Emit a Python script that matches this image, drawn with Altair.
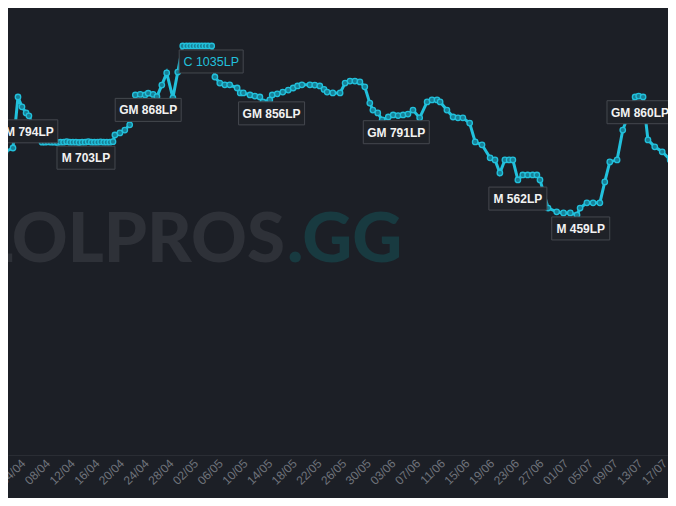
import altair as alt
import pandas as pd

# ---------------- data ----------------
line_dates = [
    "2023-03-31 10:00", "2023-04-01 02:00", "2023-04-02 09:00", "2023-04-03 04:30",
    "2023-04-03 20:00", "2023-04-04 12:00", "2023-04-04 23:00", "2023-04-05 22:30",
    "2023-04-07 02:00", "2023-04-07 14:00", "2023-04-08 02:00", "2023-04-08 14:00",
    "2023-04-09 02:00", "2023-04-09 14:00", "2023-04-10 02:00", "2023-04-10 14:00",
    "2023-04-11 02:00", "2023-04-11 14:00", "2023-04-12 02:00", "2023-04-12 14:00",
    "2023-04-13 02:00", "2023-04-13 14:00", "2023-04-14 02:00", "2023-04-14 14:00",
    "2023-04-15 02:00", "2023-04-15 14:00", "2023-04-16 02:00", "2023-04-16 14:00",
    "2023-04-17 02:00", "2023-04-17 14:00", "2023-04-18 02:00", "2023-04-18 14:00",
    "2023-04-18 21:30", "2023-04-19 17:00", "2023-04-20 12:00", "2023-04-21 07:00",
    "2023-04-22 05:00", "2023-04-23 00:00", "2023-04-23 19:00", "2023-04-24 07:00",
    "2023-04-25 02:00", "2023-04-25 17:00", "2023-04-26 12:00", "2023-04-27 07:00",
    "2023-04-28 07:00", "2023-04-29 02:00", "2023-04-29 21:30", "2023-04-30 12:00",
    "2023-05-01 00:00", "2023-05-01 12:00", "2023-05-02 00:00", "2023-05-02 12:00",
    "2023-05-03 00:00", "2023-05-03 12:00", "2023-05-04 00:00", "2023-05-04 14:00",
    "2023-05-05 02:30", "2023-05-05 21:30", "2023-05-06 17:00", "2023-05-07 12:00",
    "2023-05-08 17:00", "2023-05-09 05:00", "2023-05-09 17:00", "2023-05-10 19:00",
    "2023-05-11 14:00", "2023-05-12 09:30", "2023-05-12 21:30", "2023-05-14 00:00",
    "2023-05-14 09:30", "2023-05-15 05:00", "2023-05-16 02:30", "2023-05-17 00:00",
    "2023-05-17 19:00", "2023-05-18 12:00", "2023-05-19 05:00", "2023-05-20 12:00",
    "2023-05-21 07:00", "2023-05-22 02:30", "2023-05-22 19:00", "2023-05-23 07:00",
    "2023-05-24 05:00", "2023-05-25 09:30", "2023-05-26 05:00", "2023-05-27 00:00",
    "2023-05-27 19:00", "2023-05-28 14:30", "2023-05-29 09:30", "2023-05-30 05:00",
    "2023-05-30 17:00", "2023-05-31 12:00", "2023-06-01 05:00", "2023-06-02 05:00",
    "2023-06-03 00:00", "2023-06-03 19:00", "2023-06-04 14:30", "2023-06-05 09:30",
    "2023-06-06 05:00", "2023-06-07 07:00", "2023-06-08 12:00", "2023-06-09 07:00",
    "2023-06-10 02:30", "2023-06-10 14:30", "2023-06-11 17:00", "2023-06-12 17:00",
    "2023-06-13 12:00", "2023-06-14 07:00", "2023-06-15 09:30", "2023-06-16 07:00",
    "2023-06-17 09:30", "2023-06-18 17:00", "2023-06-19 12:00", "2023-06-20 07:00",
    "2023-06-21 02:30", "2023-06-21 19:00", "2023-06-22 09:30", "2023-06-23 05:00",
    "2023-06-24 00:00", "2023-06-24 19:00", "2023-06-25 14:30", "2023-06-26 07:00",
    "2023-06-26 19:00", "2023-06-28 02:30", "2023-06-29 12:00", "2023-06-30 14:30",
    "2023-07-01 17:00", "2023-07-02 19:00", "2023-07-03 07:00", "2023-07-04 09:30",
    "2023-07-05 09:30", "2023-07-06 12:00", "2023-07-07 07:00", "2023-07-08 02:30",
    "2023-07-09 07:00", "2023-07-10 05:00", "2023-07-12 05:00", "2023-07-12 19:00",
    "2023-07-13 12:00", "2023-07-14 07:00", "2023-07-15 09:30", "2023-07-16 14:30",
    "2023-07-17 21:30", "2023-07-18 19:00", "2023-07-20 07:00",
]
line_lp = [
    459, 670, 683, 859,
    825, 804, 794, 745,
    703, 703, 704, 703,
    703, 702, 703, 703,
    705, 703, 703, 703,
    702, 703, 703, 705,
    703, 703, 703, 704,
    703, 703, 703, 705,
    728, 735, 745, 763,
    866, 868, 866, 872,
    868, 860, 900, 942,
    856, 945, 1035, 1035,
    1035, 1035, 1035, 1035,
    1035, 1035, 1035, 1035,
    928, 907, 901, 901,
    890, 873, 873, 866,
    862, 859, 842, 849,
    866, 870, 876, 883,
    890, 897, 901, 901,
    900, 897, 885, 876,
    873, 873, 907, 914,
    914, 911, 894, 838,
    814, 804, 780, 790,
    797, 795, 797, 800,
    814, 787, 842, 849,
    849, 842, 814, 790,
    787, 787, 769, 704,
    694, 649, 642, 597,
    642, 642, 642, 573,
    590, 590, 590, 590,
    573, 476, 463, 459,
    459, 452, 476, 494,
    494, 494, 566, 635,
    642, 745, 859, 862,
    859, 711, 687, 670,
    642, 642, 642,
]

label_dates = [
    "2023-04-04 07:00", "2023-04-14 05:00", "2023-04-24 07:00", "2023-05-04 12:00",
    "2023-05-14 07:00", "2023-06-03 12:00", "2023-06-23 05:00", "2023-07-03 09:30",
    "2023-07-13 00:00",
]
label_lp = [794, 703, 868, 1035, 856, 791, 562, 459, 860]
label_text = ["GM 794LP", "M 703LP", "GM 868LP", "C 1035LP", "GM 856LP",
              "GM 791LP", "M 562LP", "M 459LP", "GM 860LP"]

tick_labels = ["31/03", "04/04", "08/04", "12/04", "16/04", "20/04", "24/04", "28/04",
               "02/05", "06/05", "10/05", "14/05", "18/05", "22/05", "26/05", "30/05",
               "03/06", "07/06", "11/06", "15/06", "19/06", "23/06", "27/06", "01/07",
               "05/07", "09/07", "13/07", "17/07", "21/07"]

watermark_text = ["LOLPROS", ".GG"]

# ---------------- styles ----------------
BG = "#1c1f26"
CYAN = "#22c1dc"
POINT_FILL = "#177f95"
BOX_FILL = "#1f2228"
BOX_STROKE = "#45484f"
AXIS_LABEL = "#6f737b"
WM_GRAY = "#2e3138"
WM_TEAL = "#183a40"

line_df = pd.DataFrame({"date": line_dates, "lp": line_lp})
lab_df = pd.DataFrame({"date": label_dates, "lp": label_lp, "text": label_text})

tick_values = [alt.DateTime(year=2023, month=int(t[3:5]), date=int(t[0:2])) for t in tick_labels]

x_enc = alt.X(
    "date:T",
    title=None,
    scale=alt.Scale(
        domain=[alt.DateTime(year=2023, month=4, date=1, hours=13, minutes=39),
                alt.DateTime(year=2023, month=7, date=17, hours=13, minutes=0)],
        nice=False,
    ),
    axis=alt.Axis(
        values=tick_values, format="%d/%m", labelAngle=-45, labelAlign="right",
        labelBaseline="middle", labelPadding=6, labelColor=AXIS_LABEL, labelFontSize=12,
        labelFont="Liberation Sans", ticks=False, grid=False, domainColor="#2a2d34",
        domainWidth=1, labelOverlap=False, labelBound=False, labelFlush=False,
    ),
)
y_enc = alt.Y("lp:Q", scale=alt.Scale(domain=[-376, 1166], nice=False, zero=False), axis=None)

wm1 = alt.Chart(pd.DataFrame({"t": [watermark_text[0]]})).mark_text(
    align="right", baseline="alphabetic", font="Lato", fontWeight=900, fontSize=69, color=WM_GRAY
).encode(x=alt.value(277), y=alt.value(254), text="t:N")
wm2 = alt.Chart(pd.DataFrame({"t": [watermark_text[1]]})).mark_text(
    align="left", baseline="alphabetic", font="Lato", fontWeight=900, fontSize=69, color=WM_TEAL
).encode(x=alt.value(279), y=alt.value(254), text="t:N")

line = alt.Chart(line_df).mark_line(color=CYAN, strokeWidth=3, clip=True).encode(x=x_enc, y=y_enc)
points = alt.Chart(line_df).mark_point(
    shape="circle", filled=False, fill=POINT_FILL, fillOpacity=1, stroke=CYAN, strokeWidth=1.3,
    size=30, opacity=1, clip=True
).encode(x=x_enc, y=y_enc)

lab_base = alt.Chart(lab_df).transform_calculate(tier="split(datum.text, ' ')[0]")


def box(tier, w):
    return lab_base.transform_filter(alt.datum.tier == tier).mark_rect(
        fill=BOX_FILL, stroke=BOX_STROKE, strokeWidth=1, clip=True,
        xOffset=-w / 2, x2Offset=w / 2, yOffset=4, y2Offset=27,
    ).encode(x=x_enc, x2="date:T", y=y_enc, y2="lp:Q")


texts_white = lab_base.transform_filter(alt.datum.tier != "C").mark_text(
    align="center", baseline="middle", dy=16, fontSize=12, fontWeight="bold",
    font="Liberation Sans", color="#f2f2f2", clip=True
).encode(x=x_enc, y=y_enc, text="text:N")

texts_cyan = lab_base.transform_filter(alt.datum.tier == "C").mark_text(
    align="center", baseline="middle", dy=16, fontSize=12.5, fontWeight="normal",
    font="Liberation Sans", color=CYAN, clip=True
).encode(x=x_enc, y=y_enc, text="text:N")

chart = alt.layer(
    wm1, wm2, line, points, box("GM", 66), box("M", 58), box("C", 64), texts_white, texts_cyan
).properties(
    width=660, height=447,
    autosize=alt.AutoSizeParams(type="none"),
    padding={"left": 0, "top": 0, "right": 0, "bottom": 43},
    background=BG,
).configure_view(strokeWidth=0)

chart.save("out.html", embed_options={"renderer": "svg", "actions": False})
